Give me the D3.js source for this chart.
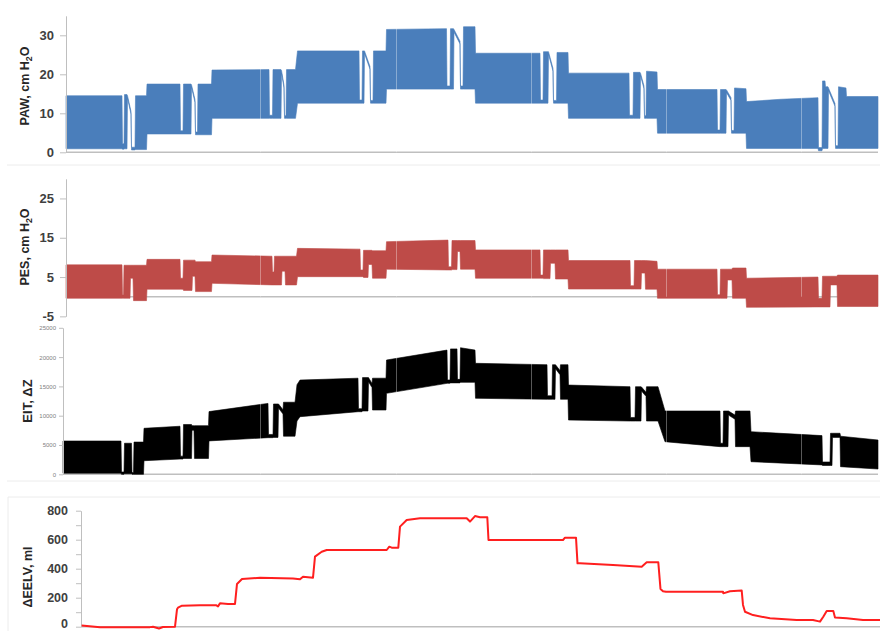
<!DOCTYPE html>
<html><head><meta charset="utf-8">
<script src="https://cdn.jsdelivr.net/npm/d3@7"></script>
<style>body{margin:0;background:#fff}svg{display:block}</style>
</head><body>
<svg id="c" width="880" height="631"></svg>
<script>
// ---------- DATA ----------
// Envelope of airway pressure (PAW, cmH2O): [time index, lower, upper]
const pawEnvelope = [
 [0,0.9,14.5],[56,0.9,14.5],[56.5,0.8,2.2],[58,0.8,2.2],[58.5,0.9,14.8],[61,0.9,14.8],
 [61.5,13.8,14.5],[65,9.8,10.5],[65.5,0.6,1.3],[69,0.6,1.3],[69.5,0.7,14.5],[80.5,0.7,14.5],
 [81,4.7,17.5],[114,4.7,17.5],[114.5,4.7,5.5],[117,4.7,5.5],[117.5,4.7,17.5],[125,4.7,17.5],
 [125.5,16.6,17.3],[129,12.8,13.5],[129.5,4.5,5.2],[131.5,4.5,5.2],[132,4.5,17.5],[145.5,4.5,17.5],
 [146,8.7,21.1],[203,8.7,21.2],[203.5,8.7,9.5],[206.5,8.7,9.5],[207,8.7,21.2],[215,8.7,21.2],
 [215.5,20.3,21.0],[218,16.5,17.2],[218.5,8.7,9.4],[220,8.7,9.4],[220.5,8.7,21.2],[229.5,8.7,21.2],
 [231.5,12.6,26.0],[293,12.6,26.0],[293.5,12.6,13.4],[296,12.6,13.4],[296.5,12.6,26.0],[298,12.6,26.0],
 [298.5,25.3,26.0],[304,21.3,22.0],[304.5,12.6,13.3],[307,12.6,13.3],[307.5,12.6,26.0],[320,12.6,26.0],
 [320.5,16.2,31.5],[380.5,16.2,31.7],[381,16.2,17.0],[384,16.2,17.0],[384.5,16.2,31.7],[387.5,16.2,31.7],
 [388,30.8,31.5],[394,27.8,28.5],[394.5,16.2,17.0],[397,16.2,17.0],[397.5,16.2,32.2],[409,16.2,32.2],
 [409.5,12.6,25.4],[474,12.6,25.4],[474.5,12.6,13.4],[477,12.6,13.4],[477.5,12.6,25.8],[482,12.6,25.8],
 [482.5,25.1,25.8],[487,20.8,21.5],[487.5,12.6,13.3],[490.5,12.6,13.3],[491,12.6,25.6],[502,12.6,25.6],
 [502.5,8.7,20.3],[563,8.7,20.3],[563.5,8.7,9.5],[567,8.7,9.5],[567.5,8.7,20.5],[574,8.7,20.5],
 [574.5,19.6,20.3],[578,16.3,17.0],[578.5,8.7,9.4],[580,8.7,9.4],[580.5,8.7,20.8],[591,8.7,20.6],
 [591.5,4.9,16.1],[651,4.9,16.1],[651.5,4.9,5.7],[654,4.9,5.7],[654.5,4.9,16.1],[660,4.9,16.1],
 [660.5,15.3,16.0],[665,13.3,14.0],[665.5,4.9,5.6],[668,4.9,5.6],[668.5,4.9,16.5],[680,4.9,16.3],
 [680.5,1.0,13.0],[715,1.0,13.6],[752,1.0,14.0],[752.5,0.4,1.2],[756,0.4,1.2],[756.5,1.0,18.3],
 [759,1.0,18.3],[759.5,1.0,16.8],[762,1.0,16.8],[762.5,15.8,16.5],[769,11.8,12.5],[769.5,1.0,1.7],
 [772,1.0,1.7],[772.5,1.0,16.8],[780,1.0,16.5],[780.5,1.0,14.3],[812,1.0,14.3]
];
// Envelope of esophageal pressure (PES, cmH2O): [time index, lower, upper]
const pesEnvelope = [
 [0,-0.4,8.1],[56,-0.4,8.1],[56.5,-0.4,0.5],[57.5,-0.4,0.5],[58,-0.4,8.0],[64,-0.4,8.0],
 [64.5,4.7,8.0],[67,4.7,8.0],[67.5,-1.0,8.0],[80.5,-1.0,8.0],
 [81,1.9,9.5],[114,1.9,9.5],[114.5,1.9,4.7],[117,1.9,4.7],[117.5,1.6,9.3],[126,1.6,9.3],
 [126.5,5.2,9.3],[129,5.2,9.3],[129.5,1.3,8.9],[145.5,1.3,8.9],
 [146,3.4,10.6],[206,3.0,10.3],[206.5,3.0,6.3],[208,3.0,6.3],[208.5,3.0,10.3],[215.5,3.0,10.3],
 [216,6.5,10.3],[219,6.5,10.3],[219.5,3.0,10.3],[230.5,3.0,10.3],
 [231.5,5.1,12.3],[294,5.1,12.1],[294.5,5.1,6.8],[297,5.1,6.8],[297.5,4.9,11.8],[302,4.9,11.8],
 [302.5,8.2,11.8],[306,8.2,11.8],[306.5,4.7,11.7],[320,4.7,11.7],
 [320.5,7.0,14.0],[382,6.8,14.4],[382.5,6.8,7.6],[385.5,6.8,7.6],[386,6.9,14.3],[391,6.9,14.3],
 [391.5,11.5,14.3],[394,11.5,14.3],[394.5,7.0,14.3],[409,7.0,14.3],
 [409.5,4.7,11.9],[474,4.7,11.9],[474.5,4.7,5.5],[477,4.7,5.5],[477.5,4.6,11.9],[484,4.6,11.9],
 [484.5,8.5,11.9],[489,8.5,11.9],[489.5,4.5,11.9],[502,4.5,11.9],
 [502.5,1.95,9.2],[564,1.95,9.2],[564.5,1.95,2.8],[568,1.95,2.8],[568.5,1.95,9.2],[575,1.95,9.2],
 [575.5,6.0,9.2],[579,6.0,9.2],[579.5,1.9,9.2],[591,1.9,9.0],
 [591.5,-0.4,7.0],[651,-0.4,7.0],[651.5,-0.4,0.5],[654,-0.4,0.5],[654.5,-0.4,7.0],[661,-0.4,7.0],
 [661.5,4.25,7.0],[666,4.25,7.0],[666.5,-0.4,7.3],[680,-0.4,7.3],
 [680.5,-2.7,4.7],[752,-2.6,5.0],[752.5,-2.6,-0.4],[756,-2.6,-0.4],[756.5,-2.6,5.2],[764,-2.6,5.2],
 [764.5,3.0,5.2],[771,3.0,5.2],[771.5,-2.5,5.5],[812,-2.5,5.5]
];
// Envelope of EIT impedance change (ΔZ): [time index, lower, upper]
const eitEnvelope = [
 [0,170,5680],[58,170,5680],[58.5,0,400],[61,0,400],[61.5,100,5300],[68.5,100,5300],
 [69,0,300],[70.5,0,300],[71,0,5500],[80.5,0,5500],
 [81,2320,7850],[117,2600,8200],[117.5,2600,3100],[120,2600,3100],[120.5,2700,8500],[128.5,2700,8500],
 [129,7500,8300],[131,7500,8300],[131.5,2700,8300],[145.5,2700,8300],
 [146,5700,10700],[205,6250,12100],[205.5,6250,6800],[210,6250,6800],[210.5,6300,12000],[215,6300,12000],
 [215.5,11300,12000],[220,10300,11000],[220.5,6500,12300],[232,6500,12300],
 [234,9100,15300],[237,9830,16080],[295,10680,16400],[295.5,10680,11200],[299,10680,11200],
 [299.5,10800,16500],[305,10800,16500],[305.5,15800,16500],[309,14800,15500],[309.5,10970,16400],[323,10970,16400],
 [323.5,13820,19500],[384,15520,21200],[384.5,15520,16100],[387,15520,16100],[387.5,15600,21400],[394,15600,21400],
 [394.5,15600,16200],[397,15600,16200],[397.5,15690,21600],[412,15690,21200],
 [412.5,12970,18940],[484,12800,18700],[484.5,12800,13400],[489,12800,13400],[489.5,12800,18700],[492,12800,18700],
 [492.5,18000,18700],[497,17000,17700],[497.5,12800,18700],[505,12800,18700],
 [505.5,9260,15230],[567,9090,14950],[567.5,9090,9700],[572,9090,9700],[572.5,9090,14950],[578,9090,14950],
 [578.5,14200,14900],[583,13300,14000],[583.5,9090,14950],[595,9090,14950],
 [602,5560,10800],[657,4720,10800],[657.5,4720,5300],[660,4720,5300],[660.5,4720,10800],[665,4720,10800],
 [665.5,10100,10800],[672,9400,10100],[672.5,4720,10800],[687,4720,10800],
 [688,2150,7270],[759,1600,6600],[759.5,1500,2100],[767,1500,2100],[767.5,1500,7000],[769,1500,7000],
 [769.5,6300,7000],[777,6300,7000],[777.5,1300,6500],[815,900,5850]
];
// Change in end-expiratory lung volume (ΔEELV, ml): [time index, value]
const eelvSeries = [
 [0.7,8],[19,-3],[69,-3],[72,0],[78,-12],[82,-2],[94,0],[96,120],[97,131],[101,145],[119,148],
 [135,148],[137,140],[139,161],[147,157],[154,157],[156,295],[161,329],[179,337],[212,333],
 [219,327],[222,345],[232,338],[234,483],[240.7,517],[245.7,529],[305.7,529],[308.3,552],
 [310.7,545],[317.3,545],[319,690],[325.7,736],[339,748],[385.7,748],[389,725],[394,763],
 [399,755],[406.3,755],[407.5,598],[482,598],[484,614],[495,614],[496.5,437],[499,437],
 [532,425],[560.7,414],[565.7,444],[577.3,444],[579.5,260],[582,245],[585,241],[642,241],
 [642.3,230],[649,244],[660.7,249],[662,150],[664,103],[672,80],[689,58],[715.7,46],[732,46],
 [739,35],[742.3,69],[745.7,108],[752.3,108],[754,64],[765.7,58],[782,46],[799,46]
];
// Tick values and titles
const pawTicks = [0, 10, 20, 30];
const pesTicks = [-5, 5, 15, 25];
const eitTicks = [0, 5000, 10000, 15000, 20000, 25000];
const eelvTicks = [0, 200, 400, 600, 800];
const eelvMinorTicks = [100, 300, 500, 700];
const gridTimes12 = [194, 330, 465, 600, 735];
const gridTimes3 = [197, 333, 468, 603, 738];

// ---------- DRAWING ----------
const svg = d3.select('#c');
const FONT = '"Liberation Sans", Arial, sans-serif';
const AXIS = '#bfbfbf';
const TXT = '#404040';

[[7,165,880,165],[7,481,880,481],[8,497,880,497],[8,497,8,631]].forEach(l=>{
  svg.append('line').attr('x1',l[0]).attr('y1',l[1]).attr('x2',l[2]).attr('y2',l[3])
    .attr('stroke','#ececec').attr('stroke-width',1);
});

function yAxis(g, y, ticks, tickSize, pad, fontSize, weight, color, minor, dy){
  const ax = d3.axisLeft(y).tickValues(ticks).tickSize(tickSize).tickSizeOuter(0).tickPadding(pad)
    .tickFormat(d=>d);
  g.call(ax);
  g.select('.domain').attr('stroke', AXIS).attr('stroke-width',1);
  g.selectAll('.tick line').attr('stroke', AXIS);
  g.selectAll('.tick text').attr('font-family',FONT).attr('font-size',fontSize)
    .attr('font-weight',weight).attr('fill',color);
  if(dy) g.selectAll('.tick text').attr('dy', d => d === 0 ? dy : '0.32em');
  if(minor){
    g.selectAll('.minor').data(minor).enter().append('line').attr('class','minor')
      .attr('x1',-tickSize).attr('x2',0).attr('y1',d=>y(d)+0.5).attr('y2',d=>y(d)+0.5)
      .attr('stroke',AXIS);
  }
}

function title(cx, cy, parts, size){
  const t = svg.append('text').attr('transform',`translate(${cx},${cy}) rotate(-90)`)
    .attr('text-anchor','middle').attr('dominant-baseline','central')
    .attr('font-family',FONT).attr('font-size',size).attr('font-weight','bold').attr('fill','#262626');
  parts.forEach(p=>{
    const s = t.append('tspan').text(p.t);
    if(p.sub){ s.attr('font-size',size*0.7).attr('dy',4); }
    if(p.after){ s.attr('dy',-4); }
  });
}

function bandPanel(o){
  const x = d3.scaleLinear().domain(o.xd).range(o.xr);
  const y = d3.scaleLinear().domain(o.yd).range(o.yr);
  svg.append('line').attr('x1',o.xr[0]).attr('x2',o.xr[1]).attr('y1',y(o.base)).attr('y2',y(o.base))
    .attr('stroke',AXIS).attr('stroke-width',1.6);
  const area = d3.area().x(d=>x(d[0])).y0(d=>y(d[1])).y1(d=>y(d[2])).curve(d3.curveLinear);
  svg.append('path').datum(o.data).attr('d',area).attr('fill',o.color).attr('stroke',o.color)
    .attr('stroke-width',0.6);
  svg.append('g').selectAll('line').data(o.grid).enter().append('line')
    .attr('x1',d=>Math.round(x(d))+0.5).attr('x2',d=>Math.round(x(d))+0.5)
    .attr('y1',o.yr[1]).attr('y2',y(o.base))
    .attr('stroke','#fff').attr('stroke-opacity',0.35).attr('stroke-width',1);
  const g = svg.append('g').attr('transform',`translate(${o.xr[0]},0)`);
  yAxis(g, y, o.ticks, o.tickSize, o.pad, o.fs, o.fw, o.tc);
  return {x,y};
}

bandPanel({data:pawEnvelope, xd:[0,812], xr:[66,878], yd:[0,35], yr:[152.3,15.8], base:0,
  color:'#4a7ebb', grid:gridTimes12, ticks:pawTicks, tickSize:6, pad:6, fs:13, fw:'bold', tc:TXT});
title(25, 86, [{t:'PAW, cm H'},{t:'2',sub:true},{t:'O',after:true}], 12.5);

bandPanel({data:pesEnvelope, xd:[0,812], xr:[66,878], yd:[-5,30], yr:[316.35,178.8], base:0,
  color:'#be4b48', grid:gridTimes12, ticks:pesTicks, tickSize:6, pad:6, fs:13, fw:'bold', tc:TXT});
title(25, 247, [{t:'PES, cm H'},{t:'2',sub:true},{t:'O',after:true}], 12.5);

bandPanel({data:eitEnvelope, xd:[0,815], xr:[63,878], yd:[0,25000], yr:[474.3,327.8], base:0,
  color:'#000000', grid:gridTimes3, ticks:eitTicks, tickSize:4, pad:3, fs:6, fw:'normal', tc:'#808080'});
title(27, 401, [{t:'EIT, ΔZ'}], 13);

(function(){
  const x = d3.scaleLinear().domain([0,799]).range([81,880]);
  const y = d3.scaleLinear().domain([0,800]).range([626.7,510.7]);
  svg.append('line').attr('x1',81).attr('x2',880).attr('y1',y(0)).attr('y2',y(0))
    .attr('stroke',AXIS).attr('stroke-width',1.6);
  const g = svg.append('g').attr('transform','translate(81,0)');
  yAxis(g, y, eelvTicks, 5, 8, 12.5, 'bold', TXT, eelvMinorTicks, '0.05em');
  const line = d3.line().x(d=>x(d[0])).y(d=>y(d[1]));
  svg.append('path').datum(eelvSeries).attr('d',line).attr('fill','none')
    .attr('stroke','#ff1f1f').attr('stroke-width',2).attr('stroke-linejoin','round');
})();
title(28, 577, [{t:'ΔEELV, ml'}], 12.5);
</script>
</body></html>
